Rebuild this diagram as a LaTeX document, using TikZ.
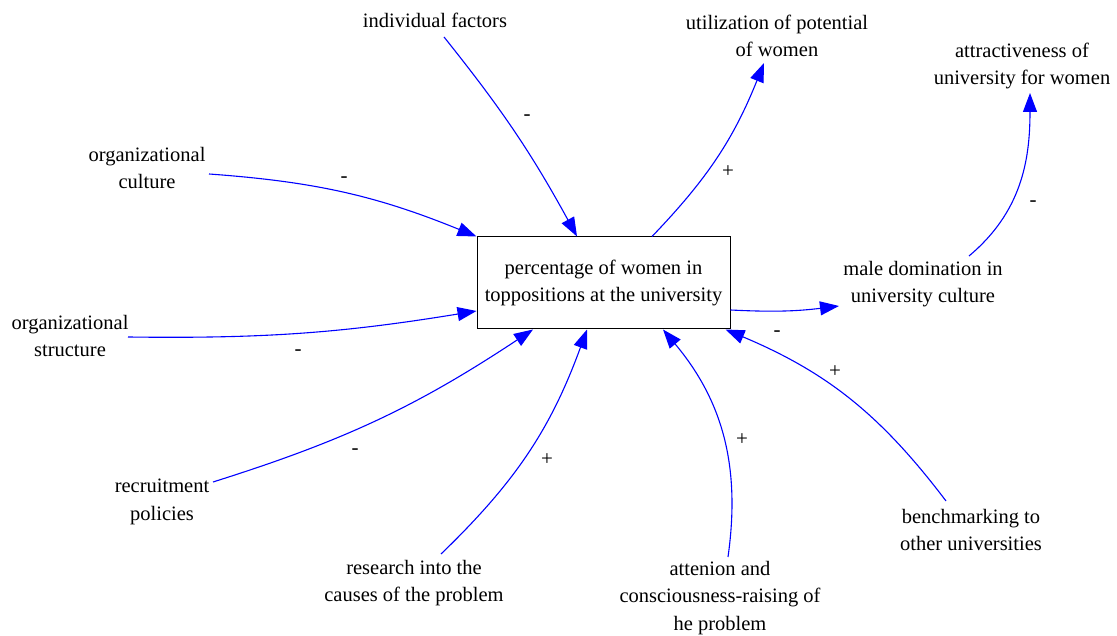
\documentclass[tikz,border=0pt]{standalone}
\usepackage{fontspec}
\setmainfont{Liberation Serif}
\usetikzlibrary{arrows.meta}
\begin{document}
\begin{tikzpicture}[x=1pt,y=1pt,
  lbl/.style={align=center,inner sep=0pt,font=\fontsize{20.5}{27.5}\selectfont},
  sign/.style={inner sep=0pt,font=\fontsize{21}{24}\selectfont},
  link/.style={draw=blue,line width=1.1pt,-{Triangle[length=19pt,width=14pt,fill=blue]}},
  stock/.style={lbl,draw=black,line width=1pt,minimum width=253pt,minimum height=92pt}
  ]
\useasboundingbox (0,0) rectangle (1117,636);
\node[stock] (box) at (603.5,353) {percentage of women in\\toppositions at the university};
\node[lbl] (indiv) at (435,616) {individual factors};
\node[lbl] (util) at (777,600) {utilization of potential\\of women};
\node[lbl] (attr) at (1022,570) {attractiveness of\\university for women};
\node[lbl] (orgcult) at (147,468) {organizational\\culture};
\node[lbl] (orgstruct) at (70,300) {organizational\\structure};
\node[lbl] (male) at (923,352) {male domination in\\university culture};
\node[lbl] (recruit) at (162,134) {recruitment\\policies};
\node[lbl] (research) at (414,53) {research into the\\causes of the problem};
\node[lbl] (atten) at (720,38) {attenion and\\consciousness-raising of\\he problem};
\node[lbl] (bench) at (971,106) {benchmarking to\\other universities};

\draw[link] ([shift={(9,-17)}]indiv.center) to[bend left=5] ([xshift=-26.5]box.north);
\draw[link] ([shift={(62,-6)}]orgcult.center) to[bend left=9] (box.north west);
\draw[link] ([shift={(58,-1)}]orgstruct.center) to[bend right=5] ([yshift=-28]box.west);
\draw[link] ([shift={(51,20)}]recruit.center) to[bend right=8] ([xshift=-70.5]box.south);
\draw[link] ([shift={(27,29)}]research.center) to[bend right=13] ([xshift=-16.5]box.south);
\draw[link] ([shift={(8,41)}]atten.center) to[bend right=24] ([xshift=59.5]box.south);
\draw[link] ([shift={(-25,29)}]bench.center) to[bend right=15] ([xshift=122]box.south);
\draw[link] ([xshift=48.5]box.north) to[bend right=11] ([shift={(-13,-27)}]util.center);
\draw[link] ([yshift=-27]box.east) to[bend right=5] ([shift={(-84,-22)}]male.center);
\draw[link] ([shift={(46,28)}]male.center) to[out=40,in=-90] ([shift={(8,-27)}]attr.center);

\node[sign] (s1) at (527,518) {-};
\node[sign] (s2) at (344,456) {-};
\node[sign] (s3) at (298,283) {-};
\node[sign] (s4) at (355,184) {-};
\node[sign] (s5) at (547,176) {+};
\node[sign] (s6) at (742,196) {+};
\node[sign] (s7) at (835,264) {+};
\node[sign] (s8) at (777,302) {-};
\node[sign] (s9) at (728,464) {+};
\node[sign] (s10) at (1033,432) {-};
\end{tikzpicture}
\end{document}
